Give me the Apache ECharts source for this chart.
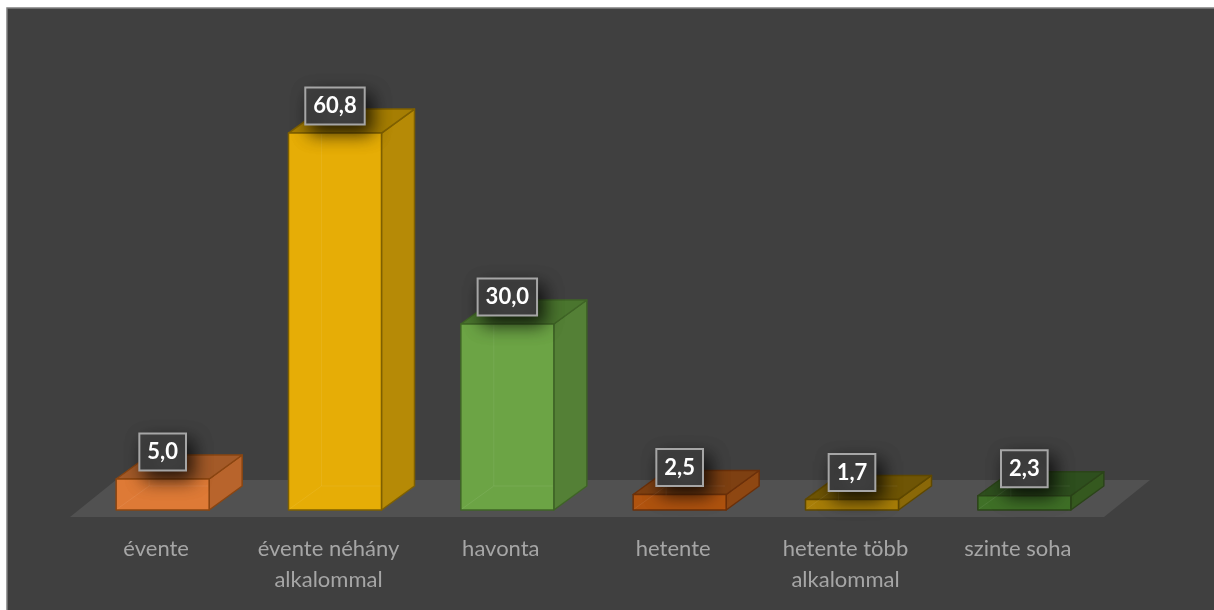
<!DOCTYPE html>
<html><head><meta charset="utf-8">
<style>html,body{margin:0;padding:0;background:#fff}#c{position:absolute;left:0;top:0;width:1214px;height:610px}</style>
<script src="https://cdn.jsdelivr.net/npm/echarts@6/dist/echarts.min.js"></script>
</head><body><div id="c"></div>
<script>
const categories = ['évente', 'évente néhány\nalkalommal', 'havonta', 'hetente', 'hetente több\nalkalommal', 'szinte soha'];
const values = [5.0, 60.8, 30.0, 2.5, 1.7, 2.3];
const labels = ['5,0', '60,8', '30,0', '2,5', '1,7', '2,3'];
const frontColors = ['#DE7A36', '#E6AD06', '#6CA445', '#B0530F', '#A87E08', '#3F7027'];
const sideColors = ['#B8642C', '#B68A06', '#548036', '#8E4712', '#8A6808', '#35591F'];
const topColors = ['#A35A28', '#A67E03', '#4A752E', '#7E4012', '#6F5505', '#2E4F1E'];
const edgeColors = ['#8A4511', '#7F6000', '#3F6426', '#6B300A', '#5F4800', '#2B4419'];
const DX = 33, DY = -24, BAR = 93, SHIFT = 6.5;
const LABEL_FONT = 'bold 22px Lato, Carlito, sans-serif';
const measure = document.createElement('canvas').getContext('2d');

function renderFloor(params) {
  const g = params.coordSys;
  const yf = g.y + g.height + 7, yb = yf - 37, dx = 46;
  return { type: 'polygon', silent: true,
    shape: { points: [[g.x, yf], [g.x + dx, yb], [g.x + g.width + dx, yb], [g.x + g.width, yf]] },
    style: { fill: '#515151' } };
}
function renderBar(params, api) {
  const i = api.value(0), v = api.value(1);
  const top = api.coord([i, v]), base = api.coord([i, 0]);
  const x0 = top[0] + SHIFT - BAR / 2, x1 = x0 + BAR, y0 = top[1], y1 = base[1];
  const stroke = { stroke: edgeColors[i], lineWidth: 1.5, lineJoin: 'round' };
  const poly = (pts, fill) => ({ type: 'polygon', shape: { points: pts }, style: { fill: fill, ...stroke } });
  const faint = { stroke: '#ffffff', lineWidth: 1, opacity: 0.07 };
  return { type: 'group', children: [
    poly([[x1, y0], [x1 + DX, y0 + DY], [x1 + DX, y1 + DY], [x1, y1]], sideColors[i]),
    poly([[x0, y0], [x0 + DX, y0 + DY], [x1 + DX, y0 + DY], [x1, y0]], topColors[i]),
    { type: 'rect', shape: { x: x0, y: y0, width: BAR, height: y1 - y0 },
      style: { fill: frontColors[i], ...stroke } },
    { type: 'line', shape: { x1: x0 + 1, y1: y1 - 1, x2: x0 + DX, y2: y1 + DY }, style: faint },
    { type: 'line', shape: { x1: x0 + DX, y1: y1 + DY, x2: x0 + DX, y2: y0 + 1 }, style: faint },
    { type: 'line', shape: { x1: x0 + DX, y1: y1 + DY, x2: x1 - 1, y2: y1 + DY }, style: faint }
  ] };
}
function renderLabel(params, api) {
  const i = api.value(0), v = api.value(1);
  const p = api.coord([i, v]);
  const cx = p[0] + SHIFT, cy = p[1] - 27;
  measure.font = LABEL_FONT;
  const w = measure.measureText(labels[i]).width + 16, h = 37;
  return { type: 'group', silent: true, children: [
    { type: 'rect', shape: { x: cx - w / 2, y: cy - h / 2, width: w, height: h },
      style: { fill: '#404040', stroke: '#A6A6A6', lineWidth: 2,
        shadowColor: 'rgba(0,0,0,0.8)', shadowBlur: 18, shadowOffsetX: 6, shadowOffsetY: 8 } },
    { type: 'text', x: cx, y: cy,
      style: { text: labels[i], font: LABEL_FONT, fill: '#ffffff', align: 'center', verticalAlign: 'middle' } }
  ] };
}
const barData = values.map((v, i) => [i, v]);
const chart = echarts.init(document.getElementById('c'), null, { renderer: 'canvas' });
chart.setOption({
  animation: false,
  backgroundColor: '#ffffff',
  graphic: [{ type: 'rect', silent: true, z: -10,
    shape: { x: 7, y: 8, width: 1214, height: 610 },
    style: { fill: '#404040', stroke: '#7f7f7f', lineWidth: 1.5 } }],
  grid: { left: 70, width: 1034, top: 14, height: 496 },
  xAxis: { type: 'category', data: categories,
    axisLine: { show: false }, axisTick: { show: false },
    axisLabel: { margin: 23, fontFamily: 'Lato, Carlito, sans-serif', fontSize: 22, color: '#A6A6A6', lineHeight: 31, interval: 0, align: 'center' } },
  yAxis: { type: 'value', min: 0, max: 80, show: false, splitLine: { show: false } },
  tooltip: { show: false },
  series: [
    { type: 'custom', coordinateSystem: 'cartesian2d', data: [[0, 0]], renderItem: renderFloor, z: 1, silent: true },
    { type: 'custom', coordinateSystem: 'cartesian2d', data: barData, renderItem: renderBar, z: 2, clip: false },
    { type: 'custom', coordinateSystem: 'cartesian2d', data: barData, renderItem: renderLabel, z: 3, clip: false }
  ]
});
</script></body></html>
